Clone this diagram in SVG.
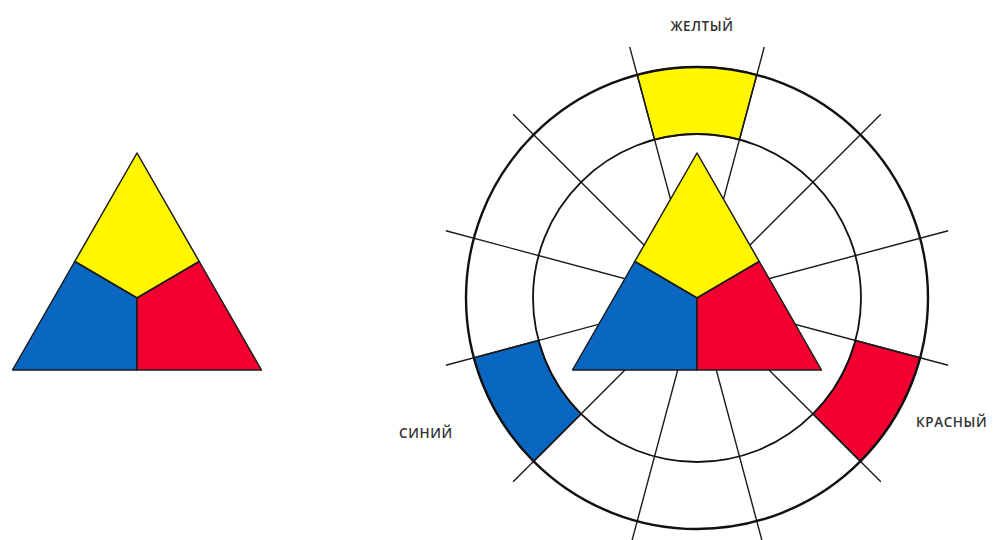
<svg xmlns="http://www.w3.org/2000/svg" width="995" height="540" viewBox="0 0 995 540">
<style>
.y{fill:#FFF700}
.b{fill:#0A67C1}
.r{fill:#F2002F}
.tri{stroke:#1a1a1a;stroke-width:1.5;stroke-linejoin:round}
.seg{stroke:#1a1a1a;stroke-width:1.5}
.spoke{stroke:#1a1a1a;stroke-width:1.4;fill:none}
.ring{fill:none;stroke:#111;stroke-width:2.4}
.ring2{fill:none;stroke:#111;stroke-width:1.8}
.lbl{font-family:"Open Sans","DejaVu Sans",sans-serif;font-size:13.5px;font-weight:600;letter-spacing:0.6px;fill:#333}
</style>
<rect width="995" height="540" fill="#fff"/>
<g id="left-triangle">
<polygon class="y tri" points="137,153 199.25,261.5 137,298 74.75,261.5"/>
<polygon class="b tri" points="74.75,261.5 137,298 137,370 12.5,370"/>
<polygon class="r tri" points="137,298 199.25,261.5 261.5,370 137,370"/>
</g>
<g id="wheel-segments">
<path id="seg-yellow" class="y seg" d="M637.21,74.87 A231,231 0 0 1 756.79,74.87 L739.45,139.59 A164,164 0 0 0 654.55,139.59 Z"/>
<path id="seg-blue" class="b seg" d="M473.87,357.79 A231,231 0 0 0 533.66,461.34 L581.04,413.96 A164,164 0 0 1 538.59,340.45 Z"/>
<path id="seg-red" class="r seg" d="M920.13,357.79 A231,231 0 0 1 860.34,461.34 L812.96,413.96 A164,164 0 0 0 855.41,340.45 Z"/>
</g>
<g id="connectors">
<line class="spoke" x1="948.14" y1="365.29" x2="445.86" y2="230.71"/>
<line class="spoke" x1="880.85" y1="481.85" x2="513.15" y2="114.15"/>
<line class="spoke" x1="764.29" y1="549.14" x2="629.71" y2="46.86"/>
<line class="spoke" x1="629.71" y1="549.14" x2="764.29" y2="46.86"/>
<line class="spoke" x1="513.15" y1="481.85" x2="880.85" y2="114.15"/>
<line class="spoke" x1="445.86" y1="365.29" x2="948.14" y2="230.71"/>
<circle class="ring" cx="697" cy="298" r="231"/>
<circle class="ring2" cx="697" cy="298" r="164"/>
</g>
<g id="center-triangle">
<polygon class="y tri" points="697,153 759.25,261.5 697,298 634.75,261.5"/>
<polygon class="b tri" points="634.75,261.5 697,298 697,370 572.5,370"/>
<polygon class="r tri" points="697,298 759.25,261.5 821.5,370 697,370"/>
</g>
<g id="labels">
<text class="lbl" x="702" y="31" text-anchor="middle">ЖЕЛТЫЙ</text>
<text class="lbl" x="399" y="438">СИНИЙ</text>
<text class="lbl" x="916" y="427">КРАСНЫЙ</text>
</g>
</svg>
